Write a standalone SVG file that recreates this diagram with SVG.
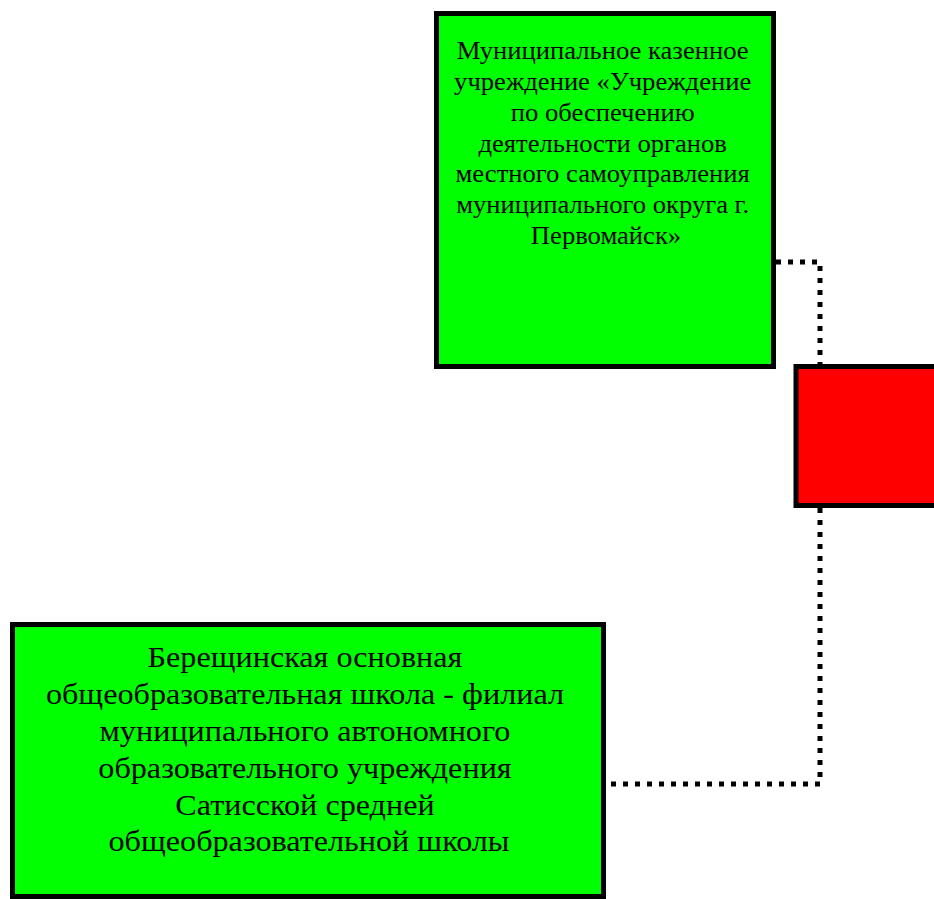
<svg xmlns="http://www.w3.org/2000/svg" width="934" height="899" viewBox="0 0 934 899">
<style>
.box{stroke:#000;stroke-width:5}
.g{fill:#00ff00}
.r{fill:#ff0000}
.t{font-family:"Liberation Serif","Times New Roman",serif;fill:#000;text-anchor:middle}
.c{fill:none;stroke:#000;stroke-width:5;stroke-dasharray:5 7}
</style>
<rect width="934" height="899" fill="#fff"/>
<g id="connectors">
<path class="c" d="M776 262 H820 V364"/>
<path class="c" d="M820 508 V784 H606"/>
</g>
<g id="node-top">
<rect class="box g" x="436.5" y="13.5" width="337" height="353"/>
<text class="t" font-size="25" transform="translate(606 0) scale(1.065 1)">
<tspan x="0" y="59.5">Муниципальное казенное</tspan>
<tspan x="0" y="90.2">учреждение «Учреждение</tspan>
<tspan x="0" y="120.9">по обеспечению</tspan>
<tspan x="0" y="151.6">деятельности органов</tspan>
<tspan x="0" y="182.3">местного самоуправления</tspan>
<tspan x="0" y="213">муниципального округа г.</tspan>
<tspan x="0" y="243.7">Первомайск»</tspan>
</text>
</g>
<g id="node-red">
<rect class="box r" x="796" y="366.5" width="160" height="139"/>
</g>
<g id="node-bottom">
<rect class="box g" x="12.5" y="624.5" width="591" height="272"/>
<text class="t" font-size="29" transform="translate(309 0) scale(1.11 1)">
<tspan x="0" y="667">Берещинская основная</tspan>
<tspan x="0" y="703.9">общеобразовательная школа - филиал</tspan>
<tspan x="0" y="740.8">муниципального автономного</tspan>
<tspan x="0" y="777.7">образовательного учреждения</tspan>
<tspan x="0" y="814.6">Сатисской средней</tspan>
<tspan x="0" y="851.5">общеобразовательной школы</tspan>
</text>
</g>
</svg>
